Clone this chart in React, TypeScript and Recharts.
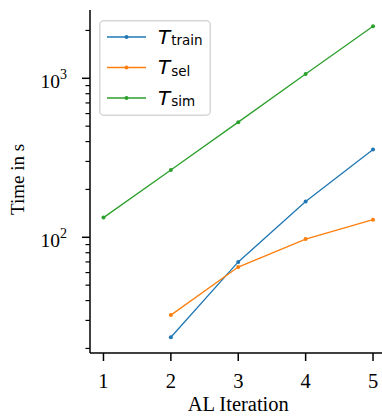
import { LineChart, Line, XAxis, YAxis, Legend, Label } from 'recharts'

const iterations = [1, 2, 3, 4, 5]
const tTrain = [null, 23.5, 70, 168, 357]
const tSel = [null, 32.4, 65, 97.5, 129]
const tSim = [133, 265, 530, 1065, 2124]

const xTicks = [1, 2, 3, 4, 5]
const yTicks = [20, 30, 40, 50, 60, 70, 80, 90, 100, 200, 300, 400, 500, 600, 700, 800, 900, 1000, 2000]
const majorTicks = [100, 1000]

const series = [
  { key: 'train', sub: 'train', color: '#1f77b4' },
  { key: 'sel', sub: 'sel', color: '#ff7f0e' },
  { key: 'sim', sub: 'sim', color: '#2ca02c' },
]

const data = iterations.map((it, i) => ({ it, train: tTrain[i], sel: tSel[i], sim: tSim[i] }))

const serif = '"Liberation Serif", "Times New Roman", serif'
const sans = '"DejaVu Sans", sans-serif'

function YTick(props: any) {
  const { x, y, payload } = props
  const v = payload.value
  const major = majorTicks.includes(v)
  return (
    <g>
      <line x1={x - (major ? 8 : 4.5)} x2={x} y1={y} y2={y} stroke="#000" strokeWidth={major ? 1.5 : 1.2} />
      {major && (
        <text x={x - 23} y={y + 9.5} textAnchor="end" fontFamily={serif} fontSize={19.5} fill="#000">
          <tspan>10</tspan>
          <tspan dy={-9} fontSize={14}>{Math.round(Math.log10(v))}</tspan>
        </text>
      )}
    </g>
  )
}

function XTick(props: any) {
  const { x, y, payload } = props
  return (
    <g>
      <line x1={x} x2={x} y1={y} y2={y + 8} stroke="#000" strokeWidth={1.5} />
      <text x={x} y={y + 35} textAnchor="middle" fontFamily={serif} fontSize={20.5} fill="#000">
        {payload.value}
      </text>
    </g>
  )
}

function LegendBox() {
  return (
    <svg width={112} height={96} style={{ display: 'block' }}>
      <rect x={0.75} y={0.75} width={110.5} height={94.5} rx={4} fill="rgba(255,255,255,0.8)" stroke="#d6d6d6" strokeWidth={1.5} />
      {series.map((s, i) => {
        const cy = 17 + i * 30.5
        return (
          <g key={s.key}>
            <line x1={8} x2={47} y1={cy} y2={cy} stroke={s.color} strokeWidth={1.3} />
            <circle cx={27.5} cy={cy} r={2} fill={s.color} />
            <text x={59} y={cy + 6.5} fontFamily={sans} fill="#000">
              <tspan fontSize={20} fontStyle="italic">T</tspan>
              <tspan fontSize={13.5} dy={1.5} dx={1}>{s.sub}</tspan>
            </text>
          </g>
        )
      })}
    </svg>
  )
}

export default function App() {
  return (
    <div style={{ position: 'absolute', left: 0, top: 0, width: 382, height: 417, overflow: 'hidden', background: '#fff' }}>
      <LineChart width={400} height={417} data={data} margin={{ top: 10, right: 13.5, bottom: 0, left: 0 }}>
        <XAxis
          dataKey="it"
          type="number"
          domain={[0.8, 5.2]}
          ticks={xTicks}
          allowDataOverflow
          height={64}
          tickSize={0}
          tickMargin={0}
          tickLine={false}
          tick={<XTick />}
          axisLine={{ stroke: '#000', strokeWidth: 1.5 }}
        >
          <Label
            content={(p: any) => {
              const vb = p.viewBox
              return (
                <text x={vb.x + vb.width / 2} y={vb.y + 58} textAnchor="middle" fontFamily={serif} fontSize={20.5} fill="#000">
                  AL Iteration
                </text>
              )
            }}
          />
        </XAxis>
        <XAxis
          xAxisId="top"
          orientation="top"
          type="number"
          domain={[0.8, 5.2]}
          height={0}
          tick={false}
          tickLine={false}
          axisLine={{ stroke: '#000', strokeWidth: 1.5 }}
        />
        <YAxis
          type="number"
          scale="log"
          domain={[18.72, 2689]}
          allowDataOverflow
          ticks={yTicks}
          interval={0}
          width={90}
          tickSize={0}
          tickMargin={0}
          tickLine={false}
          tick={<YTick />}
          axisLine={{ stroke: '#000', strokeWidth: 1.5 }}
        >
          <Label
            content={(p: any) => {
              const vb = p.viewBox
              const cx = 17
              const cy = vb.y + vb.height / 2 - 2
              return (
                <text x={cx} y={cy} transform={`rotate(-90 ${cx} ${cy})`} textAnchor="middle" dominantBaseline="central" fontFamily={serif} fontSize={19} fill="#000">
                  Time in s
                </text>
              )
            }}
          />
        </YAxis>
        <Legend
          layout="vertical"
          align="center"
          verticalAlign="middle"
          content={() => <LegendBox />}
          wrapperStyle={{ left: 99, top: 20, width: 112, height: 96 }}
        />
        {series.map((s) => (
          <Line
            key={s.key}
            dataKey={s.key}
            stroke={s.color}
            strokeWidth={1.3}
            dot={{ r: 2, fill: s.color, stroke: s.color, strokeWidth: 0 }}
            activeDot={false}
            isAnimationActive={false}
          />
        ))}
      </LineChart>
    </div>
  )
}
